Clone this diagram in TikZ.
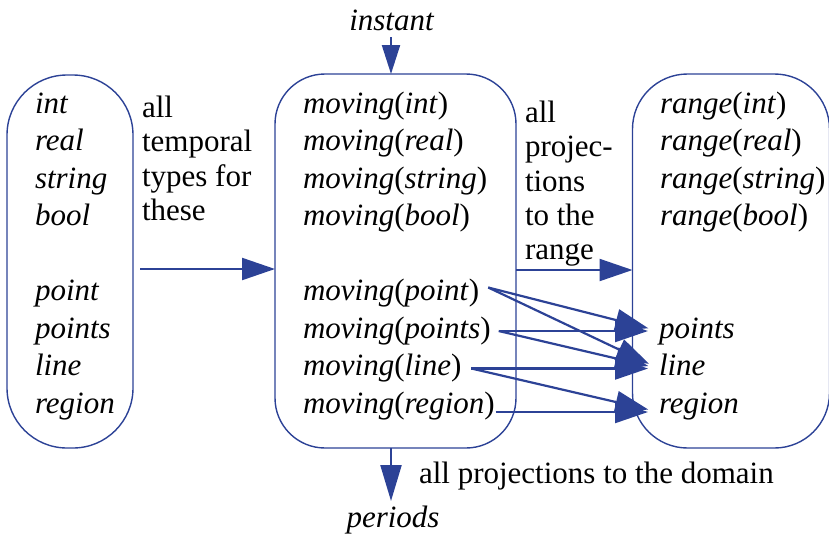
\documentclass[tikz,border=0pt]{standalone}
\usepackage{fontspec}
\setmainfont{Liberation Serif}
\usetikzlibrary{arrows.meta,calc}
\definecolor{dblue}{RGB}{44,66,150}
\begin{document}
\begin{tikzpicture}[x=1pt,y=-1pt,
  every node/.style={inner sep=0pt, outer sep=0pt},
  txt/.style={font=\fontsize{31}{37.5}\selectfont, anchor=base west, text height=21pt, text depth=7pt},
  lbl/.style={font=\fontsize{31}{34.3}\selectfont, align=left, anchor=north west},
  box/.style={draw=dblue, line width=1.4pt},
  arr/.style={draw=dblue, line width=2.2pt, -{Triangle[length=33pt,width=22pt]}},
  cross/.style={arr, shorten >=11pt},
]
\useasboundingbox (0,0) rectangle (829,539);

% boxes
\node[box, rounded corners=60pt, minimum width=126pt, minimum height=373pt] (lbox) at (70,261.5) {};
\node[box, rounded corners=50pt, minimum width=241pt, minimum height=374pt] (mbox) at (395.5,261) {};
\begin{scope}
  \clip (0,0) rectangle (829,539);
  \node[box, rounded corners=55pt, minimum width=197pt, minimum height=374pt] (rbox) at (731,261) {};
\end{scope}

% left column
\node[txt] (lint)    at (35,113)   {\itshape int};
\node[txt] (lreal)   at (35,150.5) {\itshape real};
\node[txt] (lstring) at (35,188)   {\itshape string};
\node[txt] (lbool)   at (35,225.5) {\itshape bool};
\node[txt] (lpoint)  at (35,300.5) {\itshape point};
\node[txt] (lpoints) at (35,338)   {\itshape points};
\node[txt] (lline)   at (35,375.5) {\itshape line};
\node[txt] (lregion) at (35,413)   {\itshape region};

% middle column
\node[txt] (mint)    at (303,113)   {\textit{moving}(\textit{int})};
\node[txt] (mreal)   at (303,150.5) {\textit{moving}(\textit{real})};
\node[txt] (mstring) at (303,188)   {\textit{moving}(\textit{string})};
\node[txt] (mbool)   at (303,225.5) {\textit{moving}(\textit{bool})};
\node[txt] (mpoint)  at (303,300.5) {\textit{moving}(\textit{point})};
\node[txt] (mpoints) at (303,338)   {\textit{moving}(\textit{points})};
\node[txt] (mline)   at (303,375.5) {\textit{moving}(\textit{line})};
\node[txt] (mregion) at (303,413)   {\textit{moving}(\textit{region})};

% right column
\node[txt] (rint)    at (660,113)   {\textit{range}(\textit{int})};
\node[txt] (rreal)   at (660,150.5) {\textit{range}(\textit{real})};
\node[txt] (rstring) at (660,188)   {\textit{range}(\textit{string})};
\node[txt] (rbool)   at (660,225.5) {\textit{range}(\textit{bool})};
\node[txt] (rpoints) at (659,338)   {\itshape points};
\node[txt] (rline)   at (659,375.5) {\itshape line};
\node[txt] (rregion) at (659,413)   {\itshape region};

% labels
\node[lbl] (ltext) at (142,96) {all\\temporal\\types for\\these};
\node[lbl] (rtext) at (525,101) {all\\projec-\\tions\\to the\\range};
\node[txt, anchor=base] (instant) at (391.5,30) {\itshape instant};
\node[txt, anchor=base] (periods) at (393,527) {\itshape periods};
\node[txt] (dom) at (419,483) {all projections to the domain};

% arrows
\draw[arr, -{Triangle[length=29pt,width=18pt]}] (instant.south -| 391,0) -- (mbox.north -| 391,0);
\draw[arr, -{Triangle[length=36pt,width=21pt]}] (mbox.south -| 391,0) -- ([yshift=5pt]periods.north -| 391,0);
\draw[arr] ([xshift=7pt,yshift=-7.5pt]lbox.east) -- ([yshift=-8pt]mbox.west);
\draw[arr] ([yshift=-9pt]mbox.east) -- ([yshift=-9pt]rbox.west);

\draw[cross] ([xshift=9pt,yshift=6pt]mpoint.east) -- (rpoints.west);
\draw[cross] ([xshift=9pt,yshift=6pt]mpoint.east) -- (rline.west);
\draw[cross] ([xshift=8pt]mpoints.east) -- (rpoints.west);
\draw[cross] ([xshift=8pt]mpoints.east) -- (rline.west);
\draw[cross] ([xshift=10pt]mline.east) -- (rline.west);
\draw[cross] ([xshift=10pt]mline.east) -- ([yshift=-6pt]rregion.west);
\draw[cross] ([xshift=1pt,yshift=-6pt]mregion.east) -- ([yshift=-6pt]rregion.west);
\end{tikzpicture}
\end{document}
